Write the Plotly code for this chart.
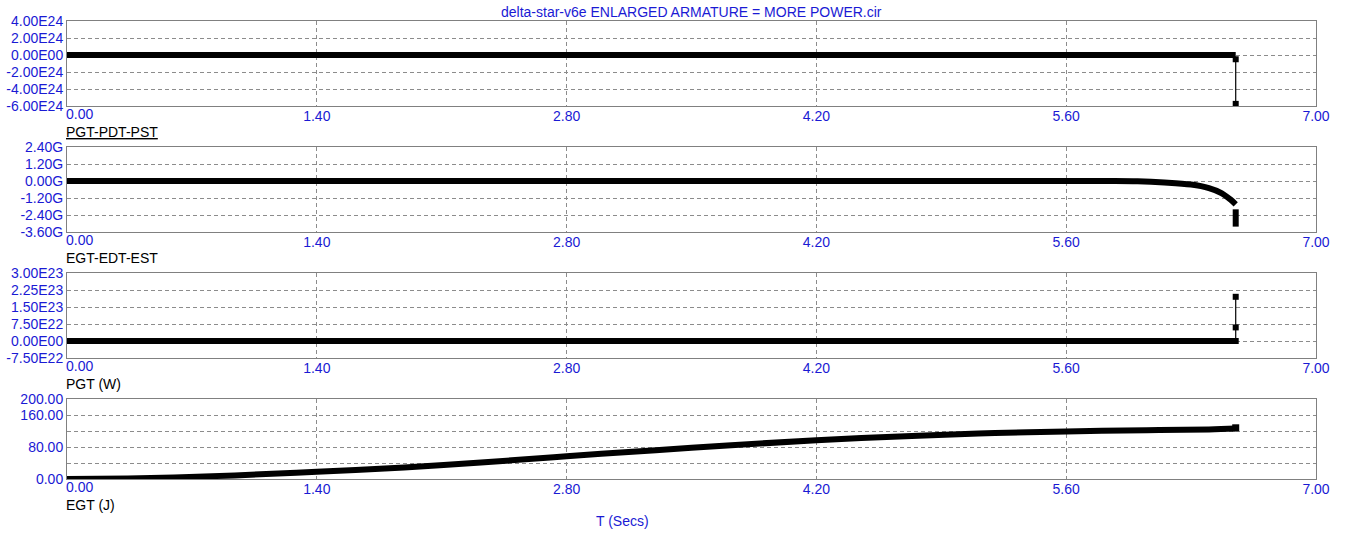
import plotly.graph_objects as go

# ---------------- data ----------------
t_end = 6.55

# Panel 1: PGT-PDT-PST
p1_t = [0.0, t_end]
p1_v = [0.0, 0.0]
p1_jump_t = [t_end, t_end]
p1_jump_v = [-0.5e24, -5.75e24]

# Panel 2: EGT-EDT-EST
p2_t = [0.0, 5.8, 6.0, 6.15, 6.3, 6.4, 6.47, 6.52, 6.55]
p2_v = [0.0, 0.0, -0.02e9, -0.1e9, -0.25e9, -0.5e9, -0.85e9, -1.3e9, -1.65e9]
p2_tail_t = [t_end, t_end]
p2_tail_v = [-2.0e9, -3.22e9]

# Panel 3: PGT (W)
p3_t = [0.0, t_end]
p3_v = [0.0, 0.0]
p3_jump_t = [t_end, t_end, t_end]
p3_jump_v = [0.0, 6.0e22, 1.95e23]

# Panel 4: EGT (J)
p4_t = [0.0, 0.34, 0.6, 0.94, 1.4, 1.89, 2.32, 2.8, 3.3, 3.7, 4.2, 4.77, 5.2, 5.6, 6.05, 6.4, 6.55]
p4_v = [0.0, 1.5, 4.0, 9.0, 18.0, 29.0, 41.0, 57.0, 72.0, 84.0, 97.0, 108.0, 115.0, 119.0, 122.0, 124.0, 126.0]

# ticks
x_ticks = [0.0, 1.4, 2.8, 4.2, 5.6, 7.0]
x_tick_text = ["0.00", "1.40", "2.80", "4.20", "5.60", "7.00"]

y1_ticks = [4e24, 2e24, 0, -2e24, -4e24, -6e24]
y1_text = ["4.00E24", "2.00E24", "0.00E00", "-2.00E24", "-4.00E24", "-6.00E24"]
y2_ticks = [2.4e9, 1.2e9, 0, -1.2e9, -2.4e9, -3.6e9]
y2_text = ["2.40G", "1.20G", "0.00G", "-1.20G", "-2.40G", "-3.60G"]
y3_ticks = [3e23, 2.25e23, 1.5e23, 7.5e22, 0, -7.5e22]
y3_text = ["3.00E23", "2.25E23", "1.50E23", "7.50E22", "0.00E00", "-7.50E22"]
y4_ticks = [200, 160, 120, 80, 40, 0]
y4_text = ["200.00", "160.00", "", "80.00", "", "0.00"]

panel_titles = ["<u>PGT-PDT-PST</u>", "EGT-EDT-EST", "PGT (W)", "EGT (J)"]
title_text = "delta-star-v6e ENLARGED ARMATURE = MORE POWER.cir"
x_title = "T (Secs)"

# ---------------- layout ----------------
W, H = 1353, 541
L, R, T, B = 67, 1316, 21, 479
PW, PH = R - L, B - T
panels_px = [(21, 106), (147, 232), (273, 358), (399, 479)]

BLUE = "#1a1ad4"
GRID = "#8c8c8c"
FONT = "Arial, Liberation Sans, sans-serif"
FS = 14

def ydom(top, bot):
    return [(B - bot) / PH, (B - top) / PH]

fig = go.Figure()
LW = 6
line_style = dict(color="black", width=LW)

fig.add_trace(go.Scatter(x=p1_t, y=p1_v, mode="lines", line=line_style, xaxis="x", yaxis="y"))
fig.add_trace(go.Scatter(x=p1_jump_t, y=p1_jump_v, mode="lines+markers",
                         line=dict(color="black", width=1.2),
                         marker=dict(symbol="square", size=6, color="black"), xaxis="x", yaxis="y"))

fig.add_trace(go.Scatter(x=p2_t, y=p2_v, mode="lines", line=dict(color="black", width=LW, shape="spline"),
                         xaxis="x2", yaxis="y2"))
fig.add_trace(go.Scatter(x=p2_tail_t, y=p2_tail_v, mode="lines", line=dict(color="black", width=LW),
                         xaxis="x2", yaxis="y2"))

fig.add_trace(go.Scatter(x=p3_t, y=p3_v, mode="lines", line=line_style, xaxis="x3", yaxis="y3"))
fig.add_trace(go.Scatter(x=p3_jump_t, y=p3_jump_v, mode="lines+markers",
                         line=dict(color="black", width=1.2),
                         marker=dict(symbol="square", size=6, color="black"), xaxis="x3", yaxis="y3"))

fig.add_trace(go.Scatter(x=p4_t, y=p4_v, mode="lines", line=dict(color="black", width=LW, shape="spline"),
                         xaxis="x4", yaxis="y4"))
fig.add_trace(go.Scatter(x=[p4_t[-1]], y=[p4_v[-1] + 2], mode="markers",
                         marker=dict(symbol="square", size=7, color="black"), xaxis="x4", yaxis="y4"))

yinfo = [
    (y1_ticks, y1_text, [-6e24, 4e24]),
    (y2_ticks, y2_text, [-3.6e9, 2.4e9]),
    (y3_ticks, y3_text, [-7.5e22, 3e23]),
    (y4_ticks, y4_text, [0, 200]),
]

layout = dict(
    width=W, height=H,
    paper_bgcolor="white", plot_bgcolor="white",
    margin=dict(l=L, r=W - R, t=T, b=H - B, pad=0, autoexpand=False),
    showlegend=False,
    font=dict(family=FONT, size=FS, color=BLUE),
)

annotations = []
for i, ((top, bot), (yt, ytxt, yr)) in enumerate(zip(panels_px, yinfo)):
    n = "" if i == 0 else str(i + 1)
    xa = dict(
        domain=[0, 1], range=[0, 7], anchor="y" + n,
        tickmode="array", tickvals=x_ticks[1:], ticktext=x_tick_text[1:],
        showgrid=True, gridcolor=GRID, gridwidth=1, griddash="4px,3px",
        showline=True, linecolor="#808080", linewidth=1, mirror=True,
        ticks="", zeroline=False, tickfont=dict(family=FONT, size=FS, color=BLUE),
        fixedrange=True, automargin=False, ticklabelstandoff=-3,
    )
    ya = dict(
        domain=ydom(top, bot), range=yr, anchor="x" + n,
        tickmode="array", tickvals=yt, ticktext=ytxt,
        showgrid=True, gridcolor=GRID, gridwidth=1, griddash="4px,3px",
        showline=True, linecolor="#808080", linewidth=1, mirror=True,
        ticks="", zeroline=False, tickfont=dict(family=FONT, size=FS, color=BLUE),
        fixedrange=True, automargin=False,
    )
    layout["xaxis" + n] = xa
    layout["yaxis" + n] = ya
    # left-aligned 0.00 tick label
    annotations.append(dict(
        x=x_ticks[0], xref="x" + n, y=0, yref="y" + n + " domain",
        text=x_tick_text[0], showarrow=False, xanchor="left", yanchor="top",
        yshift=2, xshift=-3, font=dict(family=FONT, size=FS, color=BLUE),
    ))
    # panel title
    annotations.append(dict(
        x=0, xref="paper", y=0, yref="y" + n + " domain",
        text=panel_titles[i], showarrow=False, xanchor="left", yanchor="top",
        yshift=-16, xshift=-3, font=dict(family=FONT, size=FS, color="black"),
    ))

annotations.append(dict(
    x=0.5, xref="paper", y=1, yref="paper", text=title_text, showarrow=False,
    xanchor="center", yanchor="bottom", yshift=-1,
    font=dict(family=FONT, size=FS, color=BLUE),
))
annotations.append(dict(
    x=(622 - L) / PW, xref="paper", y=0, yref="paper", text=x_title, showarrow=False,
    xanchor="center", yanchor="top", yshift=-32,
    font=dict(family=FONT, size=FS, color=BLUE),
))
layout["annotations"] = annotations

fig.update_layout(**layout)
fig.write_html("out.html", config={"displayModeBar": False, "staticPlot": True},
               post_script="document.body.style.margin='0px';")
